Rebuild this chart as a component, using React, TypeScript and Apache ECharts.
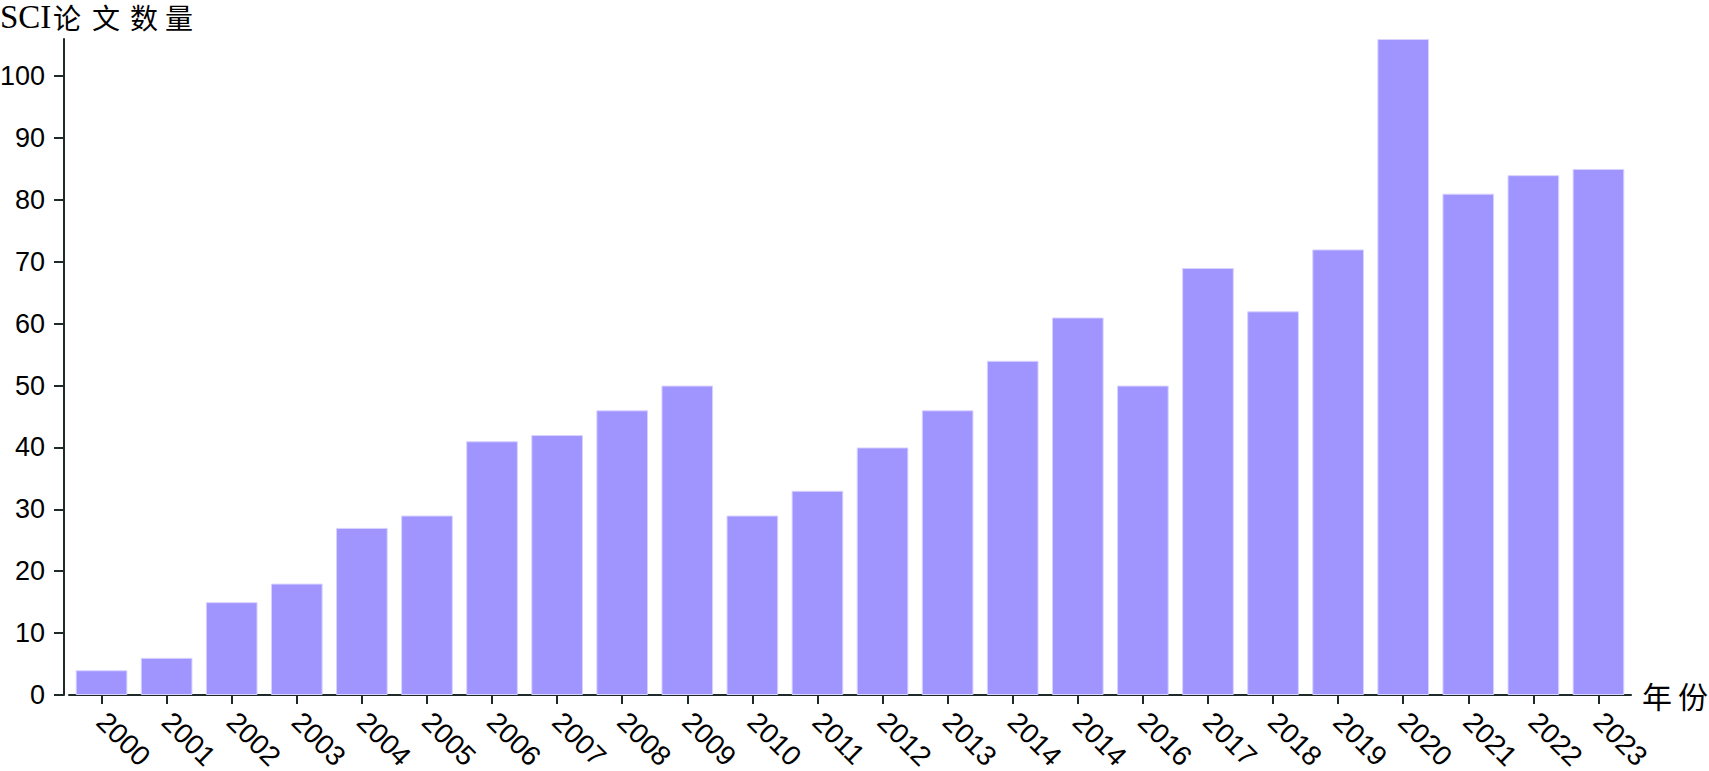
import React, { useEffect, useRef } from "react";
import * as echarts from "echarts";

const years: string[] = [
  "2000", "2001", "2002", "2003", "2004", "2005", "2006", "2007", "2008", "2009",
  "2010", "2011", "2012", "2013", "2014", "2014", "2016", "2017", "2018", "2019",
  "2020", "2021", "2022", "2023",
];
const paperCounts: number[] = [
  4, 6, 15, 18, 27, 29, 41, 42, 46, 50,
  29, 33, 40, 46, 54, 61, 50, 69, 62, 72,
  106, 81, 84, 85,
];
// y-axis title "SCI论文数量", split for letter spacing
const yTitleParts: string[] = ["SCI", "论", "文", "数", "量"];
// x-axis title "年份"
const xTitleParts: string[] = ["年", "份"];

const AXIS_COLOR = "#1e2a2a";
const BAR_COLOR = "#a095ff";
const CJK = "'Noto Sans CJK SC', sans-serif";
const NUM_FONT = "Arial, 'Liberation Sans', sans-serif";

export default function App() {
  const ref = useRef<HTMLDivElement>(null);
  useEffect(() => {
    if (!ref.current) return;
    const chart = echarts.init(ref.current, undefined, { renderer: "svg" });
    const titleX = [0, 53, 92, 130, 165];
    const titleTexts = yTitleParts.map((p, i) => ({
      type: "text",
      x: titleX[i],
      y: 18,
      style: {
        text: p,
        fill: "#000",
        fontSize: i === 0 ? 33 : 28,
        fontFamily: i === 0 ? "'Liberation Serif', serif" : CJK,
        align: "left",
        verticalAlign: "middle",
      },
    }));
    const xTitle = `{c0|${xTitleParts[0]}}` + xTitleParts.slice(1).map((p) => `{c|${p}}`).join("");
    chart.setOption({
      animation: false,
      backgroundColor: "#ffffff",
      graphic: [{ type: "group", left: 0, top: 0, children: titleTexts }],
      grid: { left: 69, right: 78, top: 39, bottom: 76, containLabel: false, outerBoundsMode: "none" },
      xAxis: {
        type: "category",
        data: years,
        name: xTitle,
        nameLocation: "end",
        nameGap: 11,
        nameTextStyle: {
          fontSize: 30,
          color: "#000",
          rich: {
            c0: { fontSize: 30, fontFamily: CJK, color: "#000" },
            c: { fontSize: 30, fontFamily: CJK, color: "#000", padding: [0, 0, 0, 6] },
          },
        },
        axisLine: { show: true, lineStyle: { color: AXIS_COLOR, width: 2 } },
        axisTick: {
          show: true,
          alignWithLabel: true,
          length: 9,
          lineStyle: { color: AXIS_COLOR, width: 2 },
        },
        axisLabel: {
          rotate: -45,
          fontSize: 28,
          margin: 22,
          color: "#000",
          interval: 0,
          fontFamily: NUM_FONT,
        },
        splitLine: { show: false },
      },
      yAxis: {
        type: "value",
        min: 0,
        max: 106,
        interval: 10,
        offset: 5,
        axisLine: { show: true, lineStyle: { color: AXIS_COLOR, width: 2 } },
        axisTick: { show: true, length: 10, lineStyle: { color: AXIS_COLOR, width: 2 } },
        axisLabel: {
          fontSize: 27,
          margin: 19,
          color: "#000",
          showMaxLabel: false,
          fontFamily: NUM_FONT,
        },
        splitLine: { show: false },
      },
      series: [
        {
          type: "bar",
          data: paperCounts,
          barCategoryGap: "20.6%",
          itemStyle: { color: BAR_COLOR, borderColor: "#d8d2ff", borderWidth: 1 },
        },
      ],
    });
    return () => chart.dispose();
  }, []);
  return (
    <div
      ref={ref}
      style={{ position: "absolute", left: 0, top: 0, width: 1709, height: 771 }}
    />
  );
}
